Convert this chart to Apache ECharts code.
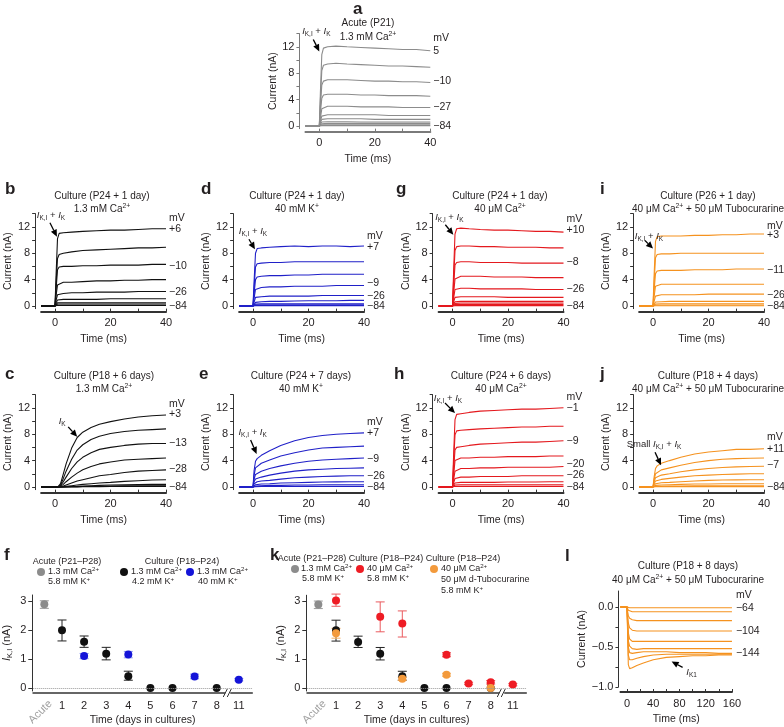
<!DOCTYPE html>
<html><head><meta charset="utf-8">
<script src="https://cdn.jsdelivr.net/npm/echarts@6/dist/echarts.min.js"></script>
<style>html,body{margin:0;padding:0;background:#fff}#c{width:784px;height:727px}</style>
</head><body><div id="c"></div>
<script>
const FONT = 'Liberation Sans, Arial, sans-serif';
const TXT = '#231f20';

// ---------- time bases (ms) ----------
const T_FAST = [-5, 0, 0.4, 0.9, 1.5, 3, 6, 10, 15, 20, 25, 30, 35, 40];
const T_SLOW = [-5, 0, 1, 2, 3, 4, 6, 8, 10, 13, 16, 20, 25, 30, 35, 40];
const T_L = [-10, 0, 2, 4, 8, 15, 25, 40, 60, 80, 100, 120, 140, 160];

// ---------- panel a: Acute (P21) ----------
const A_TRACES = [
  [0,0,5.2,10.8,11.8,12.0,12.1,12.0,11.9,11.8,11.7,11.6,11.6,11.4],
  [0,0,4.0,8.4,9.2,9.4,9.5,9.4,9.3,9.2,9.1,9.1,9.0,8.9],
  [0,0,3.0,6.2,6.8,7.0,7.0,7.0,6.9,6.8,6.8,6.7,6.7,6.6],
  [0,0,2.0,4.2,4.7,4.8,4.8,4.8,4.7,4.7,4.6,4.6,4.6,4.5],
  [0,0,1.2,2.6,2.9,3.0,3.0,3.0,2.9,2.9,2.9,2.8,2.8,2.8],
  [0,0,0.7,1.5,1.7,1.7,1.7,1.7,1.7,1.7,1.6,1.6,1.6,1.6],
  [0,0,0.5,1.0,1.1,1.1,1.1,1.1,1.1,1.0,1.0,1.0,1.0,1.0],
  [0,0,0.3,0.6,0.65,0.65,0.65,0.65,0.6,0.6,0.6,0.6,0.6,0.6],
  [0,0,0.2,0.35,0.4,0.4,0.4,0.4,0.4,0.4,0.4,0.4,0.4,0.4],
  [0,0,0.1,0.2,0.2,0.2,0.2,0.2,0.2,0.2,0.2,0.2,0.2,0.2],
  [0,0,0.05,0.05,0.05,0.05,0.05,0.05,0.05,0.05,0.05,0.05,0.05,0.05]
];
const A_MV = ['mV', '5', '\u221210', '\u221227', '\u221284'];
const A_MV_AT = [13.3, 11.3, 6.8, 2.9, 0];

// ---------- panel b: Culture P24+1 day, 1.3 mM Ca ----------
const B_TRACES = [
  [0,0,4.8,10.2,11.0,11.1,11.2,11.3,11.4,11.5,11.5,11.6,11.7,11.7],
  [0,0,3.5,7.2,7.8,8.0,8.2,8.4,8.5,8.6,8.7,8.8,8.8,8.9],
  [0,0,2.6,5.5,5.9,6.0,6.0,6.1,6.1,6.2,6.2,6.2,6.3,6.3],
  [0,0,1.6,3.2,3.5,3.6,3.6,3.7,3.8,3.8,3.9,3.9,4.0,4.0],
  [0,0,0.9,1.7,1.9,1.9,2.0,2.0,2.1,2.1,2.1,2.2,2.2,2.2],
  [0,0,0.5,0.9,1.0,1.0,1.0,1.0,1.0,1.1,1.1,1.1,1.1,1.1],
  [0,0,0.3,0.5,0.5,0.5,0.5,0.5,0.5,0.5,0.5,0.5,0.5,0.5],
  [0,0,0.2,0.3,0.3,0.3,0.3,0.3,0.3,0.3,0.3,0.3,0.3,0.3],
  [0,0,0.1,0.1,0.1,0.1,0.1,0.1,0.1,0.1,0.1,0.1,0.1,0.1]
];
const B_MV = ['mV', '+6', '\u221210', '\u221226', '\u221284'];
const B_MV_AT = [13.3, 11.6, 6.1, 2.1, 0];

// ---------- panel d: Culture P24+1 day, 40 mM K ----------
const D_TRACES = [
  [0,0,3.8,8.0,8.7,8.8,8.9,9.0,9.1,9.0,9.1,9.1,9.0,9.1],
  [0,0,2.8,5.9,6.4,6.5,6.6,6.6,6.7,6.7,6.7,6.7,6.7,6.7],
  [0,0,1.9,4.0,4.4,4.5,4.6,4.6,4.7,4.7,4.8,4.8,4.8,4.8],
  [0,0,1.2,2.5,2.8,2.8,2.9,2.9,3.0,3.0,3.0,3.1,3.1,3.1],
  [0,0,0.6,1.3,1.4,1.4,1.5,1.5,1.5,1.5,1.6,1.6,1.6,1.6],
  [0,0,0.3,0.55,0.6,0.65,0.7,0.7,0.75,0.8,0.8,0.8,0.85,0.85],
  [0,0,0.15,0.3,0.35,0.35,0.35,0.35,0.35,0.35,0.35,0.35,0.35,0.35],
  [0,0,0.1,0.2,0.2,0.2,0.2,0.2,0.2,0.2,0.2,0.2,0.2,0.2],
  [0,0,0.05,0.05,0.05,0.05,0.05,0.05,0.05,0.05,0.05,0.05,0.05,0.05]
];
const D_MV = ['mV', '+7', '\u22129', '\u221226', '\u221284'];
const D_MV_AT = [10.6, 8.9, 3.4, 1.5, 0];

// ---------- panel g: Culture P24+1 day, 40 uM Ca ----------
const G_TRACES = [
  [0,0,5.2,10.9,11.7,11.8,11.7,11.6,11.5,11.5,11.4,11.3,11.3,11.2],
  [0,0,4.0,8.4,9.0,9.1,9.1,9.0,9.0,8.9,8.9,8.9,8.8,8.8],
  [0,0,2.9,6.2,6.6,6.7,6.7,6.6,6.6,6.6,6.5,6.5,6.5,6.5],
  [0,0,1.9,4.1,4.4,4.5,4.5,4.5,4.4,4.4,4.4,4.3,4.3,4.3],
  [0,0,1.2,2.5,2.7,2.7,2.7,2.6,2.6,2.6,2.6,2.5,2.5,2.5],
  [0,0,0.6,1.3,1.4,1.4,1.4,1.4,1.4,1.3,1.3,1.3,1.3,1.3],
  [0,0,0.3,0.65,0.7,0.7,0.7,0.7,0.7,0.7,0.7,0.7,0.7,0.7],
  [0,0,0.2,0.4,0.45,0.45,0.45,0.45,0.45,0.45,0.45,0.45,0.45,0.45],
  [0,0,0.1,0.25,0.25,0.25,0.25,0.25,0.25,0.25,0.25,0.25,0.25,0.25],
  [0,0,0.05,0.05,0.05,0.05,0.05,0.05,0.05,0.05,0.05,0.05,0.05,0.05]
];
const G_MV = ['mV', '+10', '\u22128', '\u221226', '\u221284'];
const G_MV_AT = [13.1, 11.5, 6.7, 2.5, 0];

// ---------- panel i: Culture P26+1 day, 40 uM Ca + tubocurarine ----------
const I_TRACES = [
  [0,0,4.6,9.8,10.5,10.6,10.6,10.6,10.7,10.7,10.8,10.8,10.9,10.9],
  [0,0,3.4,7.3,7.8,7.9,7.9,8.0,8.0,8.0,8.0,8.0,8.0,8.0],
  [0,0,2.3,4.9,5.3,5.4,5.4,5.4,5.5,5.5,5.5,5.6,5.6,5.6],
  [0,0,1.4,3.0,3.3,3.3,3.3,3.3,3.3,3.3,3.3,3.3,3.3,3.3],
  [0,0,0.7,1.5,1.7,1.7,1.7,1.7,1.7,1.8,1.8,1.8,1.8,1.8],
  [0,0,0.3,0.6,0.65,0.65,0.7,0.7,0.7,0.7,0.7,0.7,0.7,0.7],
  [0,0,0.15,0.3,0.35,0.35,0.35,0.35,0.35,0.35,0.35,0.35,0.35,0.35],
  [0,0,0.05,0.15,0.15,0.15,0.15,0.15,0.15,0.15,0.15,0.15,0.15,0.15],
  [0,0,0.03,0.03,0.03,0.03,0.03,0.03,0.03,0.03,0.03,0.03,0.03,0.03]
];
const I_MV = ['mV', '+3', '\u221211', '\u221226', '\u221284'];
const I_MV_AT = [12.1, 10.8, 5.5, 1.6, 0];

// ---------- panel c: Culture P18+6 days, 1.3 mM Ca (slow I_K) ----------
const C_TRACES = [
  [0,0,0,0.5,2.0,3.5,5.9,7.5,8.3,9.0,9.5,9.9,10.3,10.6,10.8,10.9],
  [0,0,0,0.3,1.3,2.4,4.2,5.6,6.4,7.2,7.7,8.1,8.4,8.6,8.7,8.8],
  [0,0,0,0.2,0.8,1.5,2.8,3.8,4.5,5.2,5.7,6.0,6.3,6.5,6.6,6.6],
  [0,0,0,0.1,0.4,0.8,1.5,2.1,2.6,3.1,3.5,3.8,4.1,4.2,4.3,4.4],
  [0,0,0,0.05,0.15,0.3,0.6,0.9,1.1,1.4,1.7,1.9,2.2,2.4,2.5,2.6],
  [0,0,0,0,0.05,0.1,0.2,0.3,0.4,0.5,0.6,0.7,0.85,0.95,1.05,1.1],
  [0,0,0,0,0,0.05,0.08,0.1,0.15,0.2,0.25,0.3,0.35,0.38,0.4,0.4],
  [0,0,0,0,0,0,0.03,0.05,0.08,0.1,0.12,0.15,0.18,0.2,0.2,0.2],
  [0,0,0,0,0,0,0,0.02,0.03,0.05,0.06,0.08,0.09,0.1,0.1,0.1]
];
const C_MV = ['mV', '+3', '\u221213', '\u221228', '\u221284'];
const C_MV_AT = [12.6, 11.0, 6.6, 2.7, 0];

// ---------- panel e: Culture P24+7 days, 40 mM K ----------
const E_TRACES = [
  [0,0,2.5,3.9,4.3,4.8,5.5,6.3,7.0,7.5,7.8,8.0,8.1,8.2],
  [0,0,1.8,2.9,3.2,3.6,4.1,4.7,5.2,5.6,5.9,6.0,6.1,6.2],
  [0,0,1.2,1.9,2.1,2.4,2.8,3.2,3.6,3.9,4.1,4.2,4.3,4.4],
  [0,0,0.8,1.2,1.3,1.5,1.8,2.1,2.4,2.6,2.7,2.8,2.85,2.9],
  [0,0,0.5,0.7,0.8,0.9,1.0,1.2,1.4,1.5,1.6,1.65,1.7,1.7],
  [0,0,0.25,0.35,0.4,0.45,0.5,0.6,0.65,0.7,0.75,0.78,0.8,0.8],
  [0,0,0.1,0.15,0.2,0.2,0.25,0.25,0.3,0.3,0.35,0.35,0.35,0.35],
  [0,0,0.05,0.05,0.08,0.1,0.1,0.1,0.1,0.1,0.1,0.1,0.1,0.1]
];
const E_MV = ['mV', '+7', '\u22129', '\u221226', '\u221284'];
const E_MV_AT = [9.8, 8.1, 4.3, 1.7, 0];

// ---------- panel h: Culture P24+6 days, 40 uM Ca ----------
const H_TRACES = [
  [0,0,4.8,10.2,11.0,11.1,11.3,11.5,11.6,11.7,11.8,11.8,11.9,12.0],
  [0,0,3.7,7.9,8.5,8.6,8.7,8.8,8.9,9.0,9.1,9.1,9.2,9.2],
  [0,0,2.6,5.6,6.0,6.1,6.3,6.5,6.6,6.7,6.8,6.8,6.9,7.0],
  [0,0,1.8,4.0,4.3,4.4,4.4,4.5,4.5,4.6,4.6,4.6,4.7,4.7],
  [0,0,1.1,2.4,2.7,2.8,2.8,2.9,2.9,3.0,3.0,3.0,3.0,3.1],
  [0,0,0.6,1.3,1.5,1.5,1.5,1.6,1.6,1.6,1.7,1.7,1.7,1.7],
  [0,0,0.3,0.6,0.7,0.7,0.7,0.7,0.7,0.75,0.75,0.75,0.8,0.8],
  [0,0,0.15,0.3,0.35,0.35,0.35,0.35,0.35,0.35,0.35,0.35,0.35,0.35],
  [0,0,0.05,0.1,0.1,0.1,0.1,0.1,0.1,0.1,0.1,0.1,0.1,0.1]
];
const H_MV = ['mV', '\u22121', '\u22129', '\u221220', '\u221226', '\u221284'];
const H_MV_AT = [13.6, 11.9, 6.9, 3.5, 1.8, 0];

// ---------- panel j: Culture P18+4 days, 40 uM Ca + tubocurarine ----------
const J_TRACES = [
  [0,0,1.5,2.8,3.2,3.6,4.0,4.5,5.0,5.3,5.5,5.7,5.7,5.8],
  [0,0,1.1,2.0,2.3,2.6,2.9,3.3,3.7,4.0,4.2,4.3,4.35,4.4],
  [0,0,0.8,1.4,1.6,1.8,2.0,2.3,2.6,2.8,2.95,3.05,3.1,3.15],
  [0,0,0.5,0.9,1.0,1.15,1.3,1.5,1.7,1.8,1.9,1.95,2.0,2.0],
  [0,0,0.3,0.5,0.55,0.65,0.7,0.8,0.9,1.0,1.05,1.08,1.1,1.1],
  [0,0,0.15,0.25,0.25,0.3,0.35,0.4,0.45,0.45,0.5,0.5,0.5,0.5],
  [0,0,0.05,0.1,0.1,0.1,0.15,0.15,0.2,0.2,0.2,0.2,0.2,0.2],
  [0,0,0.02,0.03,0.03,0.04,0.05,0.05,0.05,0.05,0.05,0.05,0.05,0.05]
];
const J_MV = ['mV', '+11', '\u22127', '\u221284'];
const J_MV_AT = [7.6, 5.7, 3.3, 0];

// ---------- panel l: Culture P18+8 days, inward I_K1 ----------
const L_TRACES = [
  [0,0,-0.01,-0.01,-0.01,-0.01,-0.01,-0.01,-0.01,-0.01,-0.01,-0.01,-0.01,-0.01],
  [0,0,-0.04,-0.05,-0.06,-0.06,-0.06,-0.06,-0.06,-0.06,-0.06,-0.06,-0.06,-0.06],
  [0,0,-0.11,-0.14,-0.16,-0.17,-0.17,-0.17,-0.17,-0.17,-0.17,-0.17,-0.17,-0.17],
  [0,0,-0.2,-0.26,-0.29,-0.30,-0.30,-0.30,-0.30,-0.30,-0.30,-0.30,-0.30,-0.30],
  [0,0,-0.32,-0.40,-0.43,-0.43,-0.43,-0.43,-0.43,-0.43,-0.43,-0.43,-0.43,-0.43],
  [0,0,-0.42,-0.49,-0.52,-0.53,-0.52,-0.52,-0.52,-0.52,-0.52,-0.52,-0.52,-0.52],
  [0,0,-0.5,-0.57,-0.58,-0.57,-0.56,-0.56,-0.56,-0.57,-0.57,-0.57,-0.58,-0.58],
  [0,0,-0.6,-0.66,-0.66,-0.64,-0.62,-0.60,-0.59,-0.59,-0.59,-0.59,-0.59,-0.59],
  [0,0,-0.72,-0.77,-0.76,-0.73,-0.70,-0.66,-0.63,-0.62,-0.61,-0.61,-0.60,-0.60]
];
const L_MV = ['mV', '\u221264', '\u2212104', '\u2212144'];
const L_MV_AT = [0.15, -0.01, -0.30, -0.58];

// ---------- panels f & k: I_K,I summary ----------
const DAY_POS = [1, 2, 3, 4, 5, 6, 7, 8, 9];
const DAY_LABELS = ['1', '2', '3', '4', '5', '6', '7', '8', '11'];
const ACUTE_POS = 0.2;
const dayPos = d => (d === 11 ? 9 : d);

const ACUTE_MEAN = [2.88], ACUTE_LO = [2.74], ACUTE_HI = [3.0];
const K42_DAYS = [1, 2, 3, 4, 5, 6, 8];
const K42_MEAN = [1.99, 1.59, 1.18, 0.41, 0, 0, 0];
const K42_LO   = [1.62, 1.40, 0.97, 0.27, 0, 0, 0];
const K42_HI   = [2.34, 1.79, 1.40, 0.58, 0, 0, 0];
const K40_DAYS = [2, 4, 7, 11];
const K40_MEAN = [1.10, 1.15, 0.40, 0.29];
const K40_LO   = [1.01, 1.04, 0.32, 0.25];
const K40_HI   = [1.19, 1.26, 0.48, 0.33];
const CA40_DAYS = [1, 3, 4, 6, 7, 8, 11];
const CA40_MEAN = [3.02, 2.46, 2.23, 1.15, 0.16, 0.20, 0.12];
const CA40_LO   = [2.82, 1.94, 1.76, 1.08, 0.12, 0.14, 0.08];
const CA40_HI   = [3.24, 2.97, 2.66, 1.22, 0.20, 0.26, 0.16];
const TUBO_DAYS = [1, 4, 6, 8];
const TUBO_MEAN = [1.89, 0.32, 0.46, 0.0];
const TUBO_LO   = [1.72, 0.27, 0.41, 0.0];
const TUBO_HI   = [2.06, 0.37, 0.51, 0.0];

// ---------- colours ----------
const C_GRAY = '#8c8c8c', C_BLACK = '#111111', C_BLUE = '#2020c8', C_RED = '#e4191e', C_ORANGE = '#f5921f';

// ---------- layout ----------
const PX_MS = 2.775, PX_NA = 6.6;
const tracePanels = [
  {x0: 319.3, y0: 126, t: T_FAST, tr: A_TRACES, color: C_GRAY, axis: '#7a7a7a', mv: A_MV, at: A_MV_AT},
  {x0: 55,  y0: 306, t: T_FAST, tr: B_TRACES, color: C_BLACK, axis: '#333', mv: B_MV, at: B_MV_AT},
  {x0: 253, y0: 306, t: T_FAST, tr: D_TRACES, color: C_BLUE, axis: '#333', mv: D_MV, at: D_MV_AT},
  {x0: 452.5, y0: 306, t: T_FAST, tr: G_TRACES, color: C_RED, axis: '#333', mv: G_MV, at: G_MV_AT},
  {x0: 653, y0: 306, t: T_FAST, tr: I_TRACES, color: C_ORANGE, axis: '#333', mv: I_MV, at: I_MV_AT},
  {x0: 55,  y0: 487, t: T_SLOW, tr: C_TRACES, color: C_BLACK, axis: '#333', mv: C_MV, at: C_MV_AT},
  {x0: 253, y0: 487, t: T_FAST, tr: E_TRACES, color: C_BLUE, axis: '#333', mv: E_MV, at: E_MV_AT},
  {x0: 452.5, y0: 487, t: T_FAST, tr: H_TRACES, color: C_RED, axis: '#333', mv: H_MV, at: H_MV_AT},
  {x0: 653, y0: 487, t: T_FAST, tr: J_TRACES, color: C_ORANGE, axis: '#333', mv: J_MV, at: J_MV_AT}
];

const grids = [], xAxes = [], yAxes = [], series = [];
const labelStyle = {color: TXT, fontSize: 11, fontFamily: FONT};
const nameStyle = {color: TXT, fontSize: 10.5, fontFamily: FONT};

tracePanels.forEach((p, gi) => {
  grids.push({left: p.x0 - 5 * PX_MS, top: p.y0 - 14 * PX_NA, width: 45 * PX_MS, height: 14.4 * PX_NA});
  xAxes.push({gridIndex: gi, type: 'value', min: -5, max: 40, offset: 3,
    axisLine: {onZero: false, lineStyle: {color: p.axis, width: 2}},
    axisTick: {show: true, inside: true, length: 3, customValues: [0, 10, 20, 30, 40], lineStyle: {color: p.axis}},
    axisLabel: Object.assign({customValues: [0, 20, 40], margin: 6}, labelStyle),
    splitLine: {show: false},
    name: 'Time (ms)', nameLocation: 'middle', nameGap: 22, nameTextStyle: nameStyle});
  yAxes.push({gridIndex: gi, type: 'value', min: -0.4, max: 14, offset: 6,
    axisLine: {show: true, onZero: false, lineStyle: {color: p.axis, width: 1}},
    axisTick: {show: true, length: 3, customValues: [0, 2, 4, 6, 8, 10, 12, 14], lineStyle: {color: p.axis}},
    axisLabel: Object.assign({customValues: [0, 4, 8, 12], margin: 5}, labelStyle),
    splitLine: {show: false},
    name: 'Current (nA)', nameLocation: 'middle', nameGap: 20, nameTextStyle: nameStyle});
  p.tr.forEach(vals => series.push({type: 'line', xAxisIndex: gi, yAxisIndex: gi,
    data: p.t.map((t, i) => [t, vals[i]]), symbol: 'none', silent: true,
    lineStyle: {color: p.color, width: 1.1}}));
});

// panel l
const GI_L = grids.length;
grids.push({left: 627 - 10 * 0.656, top: 591, width: 170 * 0.656, height: 96});
xAxes.push({gridIndex: GI_L, type: 'value', min: -10, max: 160, offset: 5,
  axisLine: {onZero: false, lineStyle: {color: '#333', width: 2}},
  axisTick: {show: true, inside: true, length: 3, customValues: [0, 20, 40, 60, 80, 100, 120, 140, 160], lineStyle: {color: '#333'}},
  axisLabel: Object.assign({customValues: [0, 40, 80, 120, 160], margin: 6}, labelStyle),
  splitLine: {show: false},
  name: 'Time (ms)', nameLocation: 'middle', nameGap: 22, nameTextStyle: nameStyle});
yAxes.push({gridIndex: GI_L, type: 'value', min: -1.0, max: 0.2, offset: 2,
  axisLine: {show: true, onZero: false, lineStyle: {color: '#333'}},
  axisTick: {show: true, length: 3, customValues: [-1, -0.75, -0.5, -0.25, 0], lineStyle: {color: '#333'}},
  axisLabel: Object.assign({customValues: [-1, -0.5, 0], margin: 5,
    formatter: v => (v < 0 ? '\u2212' : '') + Math.abs(v).toFixed(1)}, labelStyle),
  splitLine: {show: false},
  name: 'Current (nA)', nameLocation: 'middle', nameGap: 30, nameTextStyle: nameStyle});
L_TRACES.forEach(vals => series.push({type: 'line', xAxisIndex: GI_L, yAxisIndex: GI_L,
  data: T_L.map((t, i) => [t, vals[i]]), symbol: 'none', silent: true,
  lineStyle: {color: C_ORANGE, width: 1.1}}));

// panels f and k
const RICH_AX = {
  i: {fontStyle: 'italic', fontSize: 11, fontFamily: FONT, color: TXT},
  s: {fontSize: 7.5, fontFamily: FONT, color: TXT, padding: [7, 0, 0, 0]},
  n: {fontSize: 11, fontFamily: FONT, color: TXT}
};
function summaryAxes(gi, left, y0, pxNa) {
  grids.push({left: left, top: y0 - 3.2 * pxNa, width: 9.9 * 22.1, height: 3.3 * pxNa});
  xAxes.push({gridIndex: gi, type: 'value', min: -0.3, max: 9.6, offset: 2,
    axisLine: {onZero: false, lineStyle: {color: '#666', width: 2}},
    axisTick: {show: false},
    axisLabel: Object.assign({customValues: DAY_POS, margin: 7,
      formatter: v => DAY_LABELS[DAY_POS.indexOf(v)]}, labelStyle),
    splitLine: {show: false},
    name: 'Time (days in cultures)', nameLocation: 'middle', nameGap: 22, nameTextStyle: nameStyle});
  yAxes.push({gridIndex: gi, type: 'value', min: -0.1, max: 3.2, offset: 1,
    axisLine: {show: true, onZero: false, lineStyle: {color: '#333'}},
    axisTick: {show: true, length: 4, customValues: [0, 1, 2, 3], lineStyle: {color: '#333'}},
    axisLabel: Object.assign({customValues: [0, 1, 2, 3], margin: 6}, labelStyle),
    splitLine: {show: false},
    name: '{i|I}{s|K,I}{n| (nA)}', nameLocation: 'middle', nameGap: 18,
    nameTextStyle: Object.assign({rich: RICH_AX}, nameStyle)});
}
function errSeries(gi, xs, lo, hi, color) {
  return {type: 'custom', xAxisIndex: gi, yAxisIndex: gi, silent: true, z: 3,
    data: xs.map((x, i) => [x === 'acute' ? ACUTE_POS : dayPos(x), lo[i], hi[i]]),
    renderItem: (params, api) => {
      if (api.value(2) - api.value(1) <= 0) return null;
      const a = api.coord([api.value(0), api.value(1)]);
      const b = api.coord([api.value(0), api.value(2)]);
      const w = 4.5, st = {stroke: color, lineWidth: 1};
      return {type: 'group', children: [
        {type: 'line', shape: {x1: a[0], y1: a[1], x2: b[0], y2: b[1]}, style: st},
        {type: 'line', shape: {x1: a[0] - w, y1: a[1], x2: a[0] + w, y2: a[1]}, style: st},
        {type: 'line', shape: {x1: b[0] - w, y1: b[1], x2: b[0] + w, y2: b[1]}, style: st}]};
    }};
}
function dots(gi, xs, mean, color, extra) {
  return Object.assign({type: 'scatter', xAxisIndex: gi, yAxisIndex: gi, silent: true, z: 4,
    symbolSize: 8, itemStyle: {color: color, opacity: 1},
    data: xs.map((x, i) => [x === 'acute' ? ACUTE_POS : dayPos(x), mean[i]])}, extra || {});
}
const zeroLine = {silent: true, symbol: ['none', 'none'], label: {show: false},
  lineStyle: {type: 'dotted', color: '#999', width: 1}, data: [{yAxis: 0}]};

const GI_F = grids.length;
summaryAxes(GI_F, 62 - 1.3 * 22.1, 690, 29.7);
series.push(errSeries(GI_F, ['acute'], ACUTE_LO, ACUTE_HI, '#9a9a9a'));
series.push(errSeries(GI_F, K42_DAYS, K42_LO, K42_HI, '#222'));
series.push(errSeries(GI_F, K40_DAYS, K40_LO, K40_HI, '#8d9cf0'));
series.push(dots(GI_F, ['acute'], ACUTE_MEAN, C_GRAY, {markLine: zeroLine}));
series.push(dots(GI_F, K42_DAYS, K42_MEAN, C_BLACK));
series.push(dots(GI_F, K40_DAYS, K40_MEAN, '#1414d8'));

const GI_K = grids.length;
summaryAxes(GI_K, 336 - 1.3 * 22.1, 689, 29.3);
series.push(errSeries(GI_K, ['acute'], ACUTE_LO, ACUTE_HI, '#9a9a9a'));
series.push(errSeries(GI_K, K42_DAYS, K42_LO, K42_HI, '#222'));
series.push(errSeries(GI_K, CA40_DAYS, CA40_LO, CA40_HI, '#ea5a5e'));
series.push(errSeries(GI_K, TUBO_DAYS, TUBO_LO, TUBO_HI, '#f6b060'));
series.push(dots(GI_K, ['acute'], ACUTE_MEAN, C_GRAY, {markLine: zeroLine}));
series.push(dots(GI_K, K42_DAYS, K42_MEAN, C_BLACK));
series.push(dots(GI_K, CA40_DAYS, CA40_MEAN, '#ee1c24'));
series.push(dots(GI_K, TUBO_DAYS, TUBO_MEAN, '#f39a3c'));

const chart = echarts.init(document.getElementById('c'), null, {renderer: 'canvas'});
chart.setOption({animation: false, backgroundColor: '#fff',
  grid: grids, xAxis: xAxes, yAxis: yAxes, series: series});

// ---------- annotations ----------
function rich(base) {
  return {
    i: {fontStyle: 'italic', fontSize: base, fontFamily: FONT, fill: TXT},
    s: {fontSize: base * 0.68, fontFamily: FONT, fill: TXT, padding: [base * 0.6, 0, 0, 0]},
    p: {fontSize: base * 0.68, fontFamily: FONT, fill: TXT, padding: [0, 0, base * 0.6, 0]},
    n: {fontSize: base, fontFamily: FONT, fill: TXT}
  };
}
const G = [];
function text(x, y, str, o) {
  o = o || {};
  const size = o.size || 10;
  G.push({type: 'text', x: x, y: y, rotation: o.rot || 0, silent: true, z: 100,
    style: {text: str, fill: o.fill || TXT, fontSize: size, fontFamily: FONT,
      fontWeight: o.bold ? 'bold' : 'normal', align: o.align || 'center',
      verticalAlign: o.valign || 'middle', rich: rich(size)}});
}
const px = (gi, x, y) => chart.convertToPixel({gridIndex: gi}, [x, y]);
function arrow(gi, tip, vec, lbl, rel, size) {
  const t = px(gi, tip[0], tip[1]);
  const len = Math.hypot(vec[0], vec[1]);
  const ux = vec[0] / len, uy = vec[1] / len;
  const hl = 7, hw = 3.2;
  const bx = t[0] + ux * hl, by = t[1] + uy * hl;
  G.push({type: 'line', silent: true, z: 100,
    shape: {x1: t[0] + vec[0], y1: t[1] + vec[1], x2: bx, y2: by}, style: {stroke: '#000', lineWidth: 1.3}});
  G.push({type: 'polygon', silent: true, z: 100,
    shape: {points: [[t[0], t[1]], [bx - uy * hw, by + ux * hw], [bx + uy * hw, by - ux * hw]]}, style: {fill: '#000'}});
  if (lbl) text(t[0] + rel[0], t[1] + rel[1], lbl, {size: size || 9.5});
}

// panel letters
const LETTERS = [['a', 353, 9], ['b', 5, 189], ['d', 201, 189], ['g', 396, 189], ['i', 600, 189],
  ['c', 5, 374], ['e', 199, 374], ['h', 394, 374], ['j', 600, 374], ['f', 4, 555], ['k', 270, 555], ['l', 565, 556]];
LETTERS.forEach(l => text(l[1], l[2], l[0], {size: 17, bold: true, align: 'left'}));

// titles
const TITLES = [
  [368, 23, 'Acute (P21)'], [368, 37, '1.3 mM Ca{p|2+}'],
  [102, 196, 'Culture (P24 + 1 day)'], [102, 209, '1.3 mM Ca{p|2+}'],
  [297, 196, 'Culture (P24 + 1 day)'], [297, 209, '40 mM K{p|+}'],
  [500, 196, 'Culture (P24 + 1 day)'], [500, 209, '40 \u03bcM Ca{p|2+}'],
  [708, 196, 'Culture (P26 + 1 day)'], [708, 209, '40 \u03bcM Ca{p|2+} + 50 \u03bcM Tubocurarine'],
  [104, 376, 'Culture (P18 + 6 days)'], [104, 389, '1.3 mM Ca{p|2+}'],
  [301, 376, 'Culture (P24 + 7 days)'], [301, 389, '40 mM K{p|+}'],
  [501, 376, 'Culture (P24 + 6 days)'], [501, 389, '40 \u03bcM Ca{p|2+}'],
  [708, 376, 'Culture (P18 + 4 days)'], [708, 389, '40 \u03bcM Ca{p|2+} + 50 \u03bcM Tubocurarine'],
  [688, 566, 'Culture (P18 + 8 days)'], [688, 580, '40 \u03bcM Ca{p|2+} + 50 \u03bcM Tubocurarine']
];
TITLES.forEach(t => text(t[0], t[1], t[2], {size: 10}));

// mV labels at the trace ends
tracePanels.forEach((p, gi) => p.mv.forEach((m, k) => {
  const q = px(gi, 40, p.at[k]);
  text(q[0] + 3, q[1], m, {align: 'left', size: 10.5});
}));
L_MV.forEach((m, k) => { const q = px(GI_L, 160, L_MV_AT[k]); text(q[0] + 4, q[1], m, {align: 'left', size: 10.5}); });

// arrows with I_K,I + I_K labels
const IKI = '{i|I}{s|K,I} + {i|I}{s|K}';
arrow(0, [0, 11.3], [-6, -12], IKI, [-3, -20]);
arrow(1, [0.7, 10.5], [-7, -14], IKI, [-6, -21]);
arrow(2, [0.7, 8.6], [-6, -10], IKI, [-2, -18]);
arrow(3, [0.3, 10.8], [-8, -10], IKI, [-4, -17]);
arrow(4, [0, 8.7], [-8, -8], IKI, [-4, -12]);
arrow(5, [8, 7.6], [-9, -10], '{i|I}{s|K}', [-15, -15]);
arrow(6, [1.3, 5.0], [-6, -14], IKI, [-4, -22]);
arrow(7, [0.9, 11.2], [-10, -10], IKI, [-7, -15]);
arrow(8, [2.9, 3.3], [-6, -13], 'Small ' + IKI, [-7, -21]);
arrow(GI_L, [68, -0.68], [11, 6], '{i|I}{s|K1}', [20, 11]);

// acute tick labels and axis breaks on f and k
[GI_F, GI_K].forEach(gi => {
  const q = px(gi, ACUTE_POS, -0.1);
  text(q[0] + 6, q[1] + 11, 'Acute', {rot: Math.PI / 4, align: 'right', fill: '#a0a0a0', size: 11});
  const b = px(gi, 8.5, -0.1);
  const y = b[1] + 2;
  G.push({type: 'rect', silent: true, z: 100, shape: {x: b[0] - 2.5, y: y - 3, width: 5, height: 6}, style: {fill: '#fff'}});
  G.push({type: 'line', silent: true, z: 101, shape: {x1: b[0] - 4.5, y1: y + 4, x2: b[0] - 0.5, y2: y - 4}, style: {stroke: '#333', lineWidth: 1}});
  G.push({type: 'line', silent: true, z: 101, shape: {x1: b[0] - 0.5, y1: y + 4, x2: b[0] + 3.5, y2: y - 4}, style: {stroke: '#333', lineWidth: 1}});
});

// legends
function dot(x, y, c) { G.push({type: 'circle', silent: true, z: 100, shape: {cx: x, cy: y, r: 4}, style: {fill: c}}); }
const LS = 9;
// f
text(67, 562, 'Acute (P21\u2013P28)', {size: LS});
dot(41, 572, C_GRAY); text(48, 572, '1.3 mM Ca{p|2+}', {size: LS, align: 'left'});
text(48, 582, '5.8 mM K{p|+}', {size: LS, align: 'left'});
text(182, 562, 'Culture (P18\u2013P24)', {size: LS});
dot(124, 572, C_BLACK); text(131, 572, '1.3 mM Ca{p|2+}', {size: LS, align: 'left'});
text(132, 582, '4.2 mM K{p|+}', {size: LS, align: 'left'});
dot(190, 572, '#1414d8'); text(197, 572, '1.3 mM Ca{p|2+}', {size: LS, align: 'left'});
text(198, 582, '40 mM K{p|+}', {size: LS, align: 'left'});
// k
text(312, 559, 'Acute (P21\u2013P28)', {size: LS});
dot(295, 569, C_GRAY); text(301, 569, '1.3 mM Ca{p|2+}', {size: LS, align: 'left'});
text(302, 579, '5.8 mM K{p|+}', {size: LS, align: 'left'});
text(386, 559, 'Culture (P18\u2013P24)', {size: LS});
dot(360, 569, '#ee1c24'); text(367, 569, '40 \u03bcM Ca{p|2+}', {size: LS, align: 'left'});
text(367, 579, '5.8 mM K{p|+}', {size: LS, align: 'left'});
text(463, 559, 'Culture (P18\u2013P24)', {size: LS});
dot(434, 569, '#f39a3c'); text(441, 569, '40 \u03bcM Ca{p|2+}', {size: LS, align: 'left'});
text(441, 580, '50 \u03bcM d-Tubocurarine', {size: LS, align: 'left'});
text(441, 591, '5.8 mM K{p|+}', {size: LS, align: 'left'});

chart.setOption({graphic: {elements: G}});
</script></body></html>
